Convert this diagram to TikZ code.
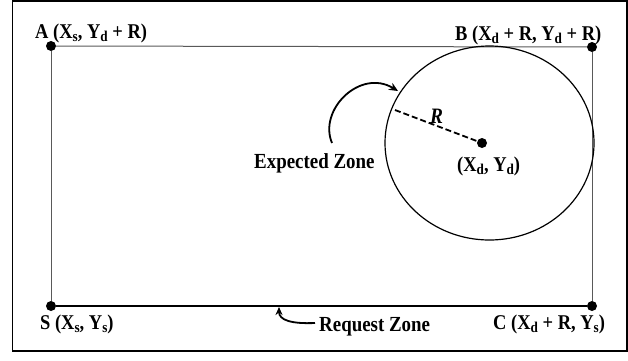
\documentclass[tikz,border=0pt]{standalone}
\usepackage{fontspec}
\setmainfont{Liberation Serif}
\newfontfamily\condfont[FakeStretch=0.88]{Liberation Serif}
\usetikzlibrary{arrows.meta,shapes.geometric}
\newcommand{\sbs}[1]{\raisebox{-0.4ex}{\fontsize{15}{15}\selectfont #1}}
\begin{document}
\begin{tikzpicture}[x=1pt,y=-1pt,
  lbl/.style={font=\condfont\fontsize{21}{22}\selectfont\bfseries, inner sep=0pt, anchor=base west},
  big/.style={font=\condfont\fontsize{21.5}{24}\selectfont\bfseries, inner sep=0pt, anchor=base west},
  dot/.style={circle, fill=black, inner sep=0pt, minimum size=10pt},
  side/.style={draw=black!65, line width=1pt},
  arr/.style={line width=1.8pt, -{Stealth[length=9pt,width=8pt]}},
]
\useasboundingbox (0,0) rectangle (628,360);
\draw[line width=1.5pt] (12.5,1) rectangle (627,351);
% corner dots
\node[dot] (A) at (51,46) {};
\node[dot] (B) at (592,47) {};
\node[dot] (S) at (51,306) {};
\node[dot] (C) at (592,306) {};
\draw[side] (A) -- (B);
\draw[side] (A) -- (S);
\draw[side] (B) -- (C);
\draw[line width=2pt] (S) -- (C);
% labels
\node[lbl] (Al) at (35,38) {A (X\sbs{s}, Y\sbs{d} + R)};
\node[lbl] (Bl) at (455,40) {B (X\sbs{d} + R, Y\sbs{d} + R)};
\node[lbl] (Sl) at (40,329) {S (X\sbs{s}, Y\sbs{s})};
\node[lbl] (Cl) at (493,329) {C (X\sbs{d} + R, Y\sbs{s})};
% expected zone circle
\node[draw, line width=1.2pt, ellipse, minimum width=209pt, minimum height=194pt, inner sep=0pt] (E) at (489.5,143) {};
\node[dot] (D) at (482,143) {};
\coordinate (Rs) at (395,110);
\draw[line width=1.8pt, dash pattern=on 6pt off 3pt] (Rs) -- (D);
\node[font=\condfont\fontsize{22}{24}\selectfont\bfseries\itshape, inner sep=0pt, anchor=base west] (Rl) at (430,123) {R};
\node[lbl] (Dl) at (457,171) {(X\sbs{d}, Y\sbs{d})};
\node[big] (EZ) at (254,168) {Expected Zone};
\coordinate (ezs) at (332,143);
\coordinate (ezt) at (398,91);
\draw[arr] (ezs) .. controls (318,110) and (360,68) .. (ezt);
% request zone
\node[big] (RZ) at (319,331) {Request Zone};
\coordinate (rzs) at (315,323);
\coordinate (rzt) at (279,307);
\draw[line width=1.8pt, -{Stealth[length=8pt,width=7pt]}] (rzs) .. controls (291,324) and (279,320) .. (rzt);
\end{tikzpicture}
\end{document}
